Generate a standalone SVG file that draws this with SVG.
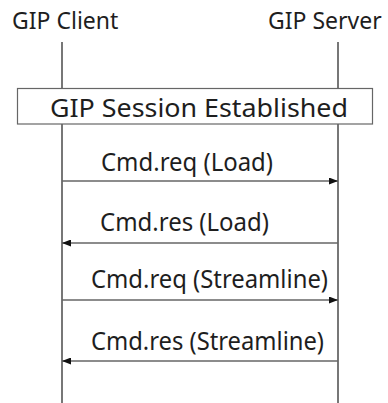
<svg xmlns="http://www.w3.org/2000/svg" width="388" height="403" viewBox="0 0 388 403">
  <style>
    .lbl { font-family: "Noto Sans", "Open Sans", sans-serif; font-size: 26px; fill: #1e1e1e; }
    .head { font-family: "Noto Sans", "Open Sans", sans-serif; font-size: 23px; fill: #1e1e1e; }
    .life { stroke: #777; stroke-width: 2; fill: none; }
    .msg { stroke: #666; stroke-width: 1.5; fill: none; }
    .box { fill: #fff; stroke: #666; stroke-width: 1.2; }
  </style>
  <defs>
    <marker id="arrow" markerWidth="9" markerHeight="7" refX="9" refY="3.5" orient="auto" markerUnits="userSpaceOnUse">
      <path d="M0,0 L9,3.5 L0,7 z" fill="#111"/>
    </marker>
  </defs>
  <rect width="388" height="403" fill="#fff"/>

  <!-- participants with their lifelines -->
  <g id="client">
    <text class="head" x="12" y="29">GIP Client</text>
    <line class="life" x1="62" y1="42" x2="62" y2="403"/>
  </g>
  <g id="server">
    <text class="head" x="268" y="29">GIP Server</text>
    <line class="life" x1="338" y1="42" x2="338" y2="403"/>
  </g>

  <!-- session banner spanning both lifelines -->
  <g id="session">
    <rect class="box" x="17.5" y="88.5" width="355" height="35.5"/>
    <text class="lbl" x="50" y="117" textLength="298" lengthAdjust="spacingAndGlyphs">GIP Session Established</text>
  </g>

  <!-- messages -->
  <g id="connectors">
    <line class="msg" x1="62" y1="181" x2="338" y2="181" marker-end="url(#arrow)"/>
    <line class="msg" x1="338" y1="243" x2="62" y2="243" marker-end="url(#arrow)"/>
    <line class="msg" x1="62" y1="300" x2="338" y2="300" marker-end="url(#arrow)"/>
    <line class="msg" x1="338" y1="361" x2="62" y2="361" marker-end="url(#arrow)"/>
  </g>
  <g id="labels">
    <text class="lbl" x="101" y="171" textLength="172" lengthAdjust="spacingAndGlyphs">Cmd.req (Load)</text>
    <text class="lbl" x="100" y="231" textLength="169" lengthAdjust="spacingAndGlyphs">Cmd.res (Load)</text>
    <text class="lbl" x="91" y="288" textLength="237" lengthAdjust="spacingAndGlyphs">Cmd.req (Streamline)</text>
    <text class="lbl" x="91" y="350" textLength="233" lengthAdjust="spacingAndGlyphs">Cmd.res (Streamline)</text>
  </g>
</svg>
